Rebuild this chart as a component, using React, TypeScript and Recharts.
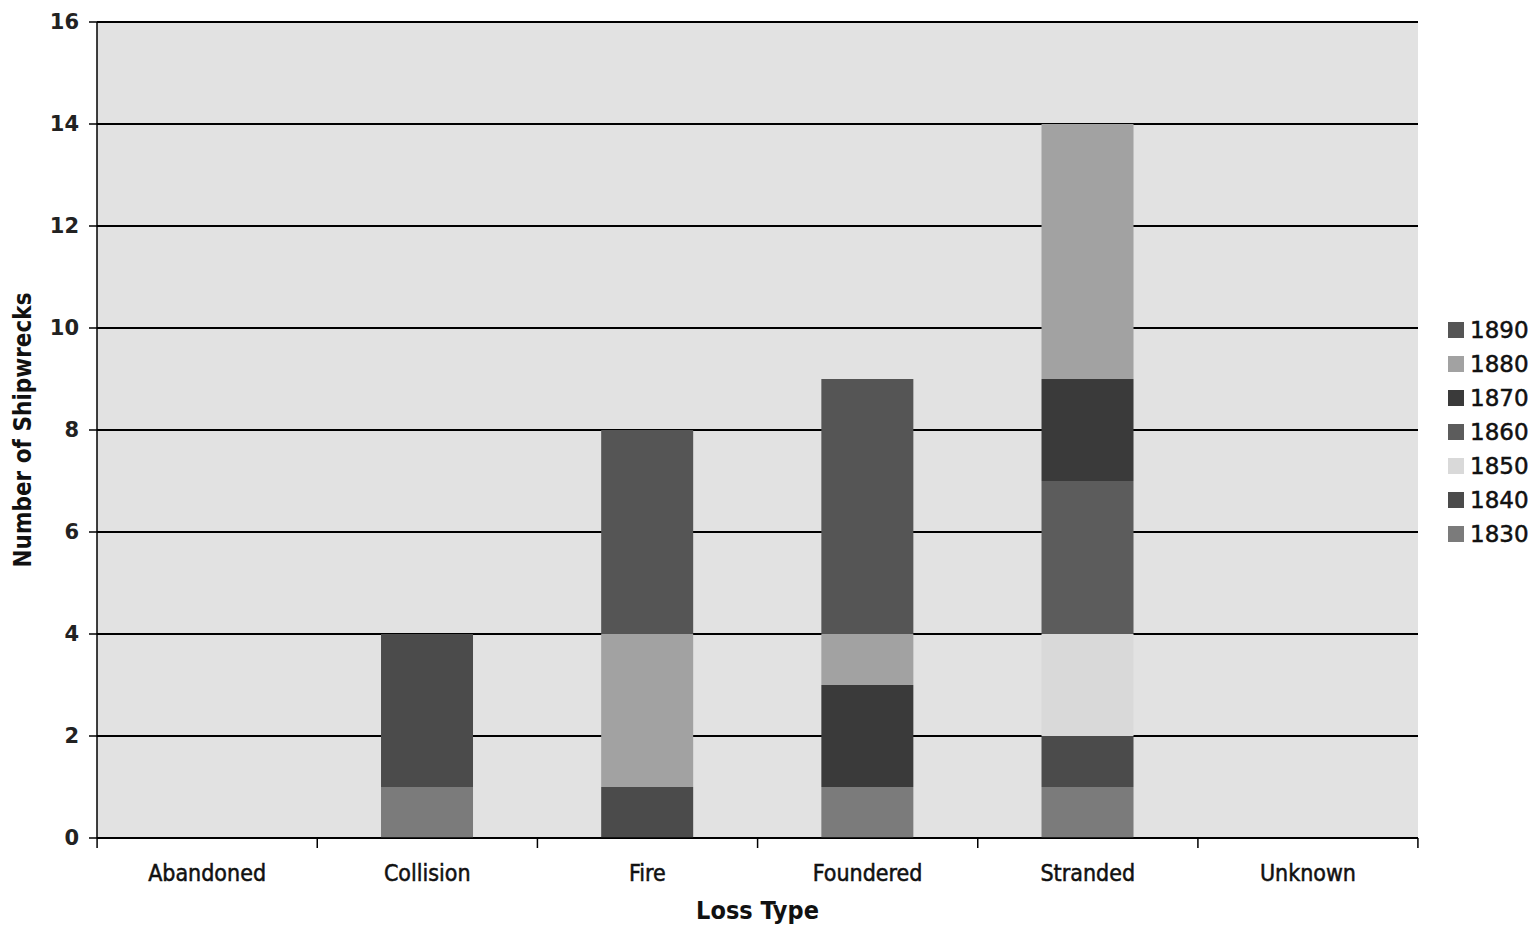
import { Bar, BarChart, CartesianGrid, Legend, XAxis, YAxis } from "recharts";

const categories = ["Abandoned", "Collision", "Fire", "Foundered", "Stranded", "Unknown"];
const years = ["1830", "1840", "1850", "1860", "1870", "1880", "1890"];
const s1830 = [0, 1, 0, 1, 1, 0];
const s1840 = [0, 3, 1, 0, 1, 0];
const s1850 = [0, 0, 0, 0, 2, 0];
const s1860 = [0, 0, 0, 0, 3, 0];
const s1870 = [0, 0, 0, 2, 2, 0];
const s1880 = [0, 0, 3, 1, 5, 0];
const s1890 = [0, 0, 4, 5, 0, 0];
const yTicks = [0, 2, 4, 6, 8, 10, 12, 14, 16];

const colors: Record<string, string> = {
  "1830": "#7b7b7b",
  "1840": "#4b4b4b",
  "1850": "#d9d9d9",
  "1860": "#5c5c5c",
  "1870": "#3a3a3a",
  "1880": "#a2a2a2",
  "1890": "#555555",
};

const series = [s1830, s1840, s1850, s1860, s1870, s1880, s1890];
const data = categories.map((name, i) => {
  const row: Record<string, string | number> = { name };
  years.forEach((y, k) => (row[y] = series[k][i]));
  return row;
});

const font = "Tahoma, 'DejaVu Sans Condensed', 'DejaVu Sans', sans-serif";
const verdana = "Verdana, 'DejaVu Sans', sans-serif";

function XTick(props: any) {
  const { x, y, payload, index } = props;
  const half = 110;
  return (
    <g>
      <line x1={x - half} x2={x - half} y1={y - 8} y2={y + 2} stroke="#000" strokeWidth={1.5} />
      {index === categories.length - 1 && (
        <line x1={x + half} x2={x + half} y1={y - 8} y2={y + 2} stroke="#000" strokeWidth={1.5} />
      )}
      <text
        x={x}
        y={y + 35}
        textAnchor="middle"
        fontSize={23}
        fill="#111"
        stroke="#111"
        strokeWidth={0.5}
        fontFamily={font}
      >
        {payload.value}
      </text>
    </g>
  );
}

function LegendBox() {
  return (
    <div style={{ width: 112, paddingLeft: 30, boxSizing: "border-box" }}>
      {[...years].reverse().map((y) => (
        <div key={y} style={{ display: "flex", alignItems: "center", height: 34, whiteSpace: "nowrap" }}>
          <span
            style={{ width: 16, height: 16, flexShrink: 0, background: colors[y], marginRight: 6 }}
          />
          <span
            style={{
              fontSize: 23,
              fontFamily: verdana,
              color: "#111",
              WebkitTextStroke: "0.5px #111",
            }}
          >
            {y}
          </span>
        </div>
      ))}
    </div>
  );
}

export default function App() {
  return (
    <div style={{ position: "absolute", left: 0, top: 0, background: "#fff" }}>
      <BarChart
        width={1535}
        height={925}
        data={data}
        margin={{ top: 22, right: 5, left: 0, bottom: 27 }}
        barCategoryGap="29%"
      >
        <CartesianGrid
          vertical={false}
          stroke="#000"
          strokeWidth={2}
          strokeOpacity={1}
          fill="#e2e2e2"
          fillOpacity={1}
        />
        <XAxis
          dataKey="name"
          height={60}
          tickLine={false}
          axisLine={{ stroke: "#000", strokeWidth: 1.5 }}
          tick={<XTick />}
          interval={0}
          label={{
            value: "Loss Type",
            position: "insideBottom",
            offset: -21,
            style: { fontSize: 25, fontWeight: "bold", fill: "#111", fontFamily: font },
          }}
        />
        <YAxis
          width={97}
          domain={[0, 16]}
          ticks={yTicks}
          interval={0}
          tickSize={8}
          tickMargin={10}
          tickLine={{ stroke: "#000", strokeWidth: 1.5 }}
          axisLine={{ stroke: "#000", strokeWidth: 1.5 }}
          tick={{ fontSize: 21, fontWeight: "bold", fill: "#222", fontFamily: verdana }}
          label={{
            value: "Number of Shipwrecks",
            angle: -90,
            position: "insideLeft",
            offset: 22,
            style: { textAnchor: "middle", fontSize: 24, fontWeight: "bold", fill: "#111", fontFamily: font },
          }}
        />
        <Legend
          layout="vertical"
          align="right"
          verticalAlign="middle"
          wrapperStyle={{ top: 313 }}
          content={<LegendBox />}
        />
        {years.map((y) => (
          <Bar key={y} dataKey={y} stackId="a" fill={colors[y]} isAnimationActive={false} />
        ))}
      </BarChart>
    </div>
  );
}
